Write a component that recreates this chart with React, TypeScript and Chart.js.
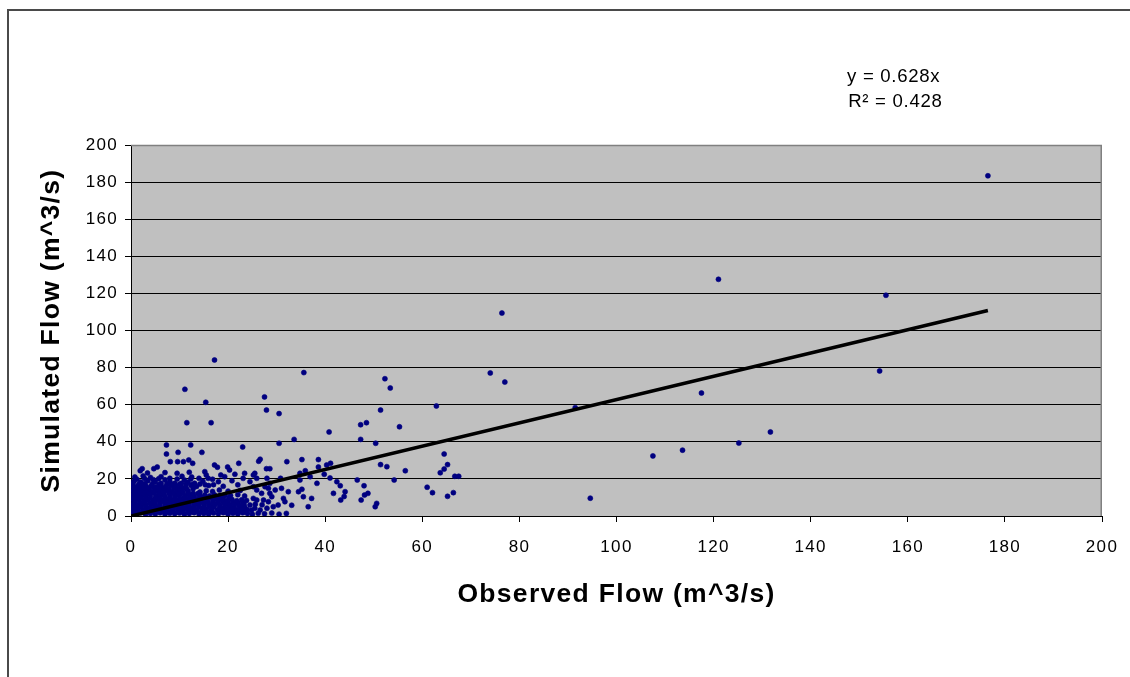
import React, { useEffect, useRef } from "react";
import { Chart, registerables } from "chart.js";

Chart.register(...registerables);

// ---------- data ----------
const xAxisMax = 200;
const yAxisMax = 200;
const tickStep = 20;

const trendSlope = 0.628;
const trendXEnd = 176.5;
const equationLabel = "y = 0.628x";
const r2Label = "R\u00B2 = 0.428";
const xTitle = "Observed Flow (m^3/s)";
const yTitle = "Simulated Flow (m^3/s)";

// dense mass near the origin
const denseCore: [number, number][] = [
  [0.2, 1.5], [1.0, 1.0], [2.0, 1.8], [3.0, 0.9], [4.0, 1.4], [5.0, 1.1], [6.0, 1.7], [7.0, 1.0], [8.0, 1.5],
  [9.0, 1.2], [10.0, 1.6], [11.0, 0.9], [12.0, 1.3], [13.0, 1.8], [14.0, 1.1], [15.0, 1.4], [16.0, 1.0], [17.0, 1.6],
  [0.5, 3.5], [1.4, 4.0], [2.5, 3.2], [3.4, 3.9], [4.5, 3.4], [5.4, 3.8], [6.5, 3.3], [7.4, 4.1], [8.5, 3.5],
  [9.6, 3.7], [10.5, 3.2], [11.5, 4.0], [12.4, 3.6], [13.5, 3.3], [14.6, 3.9], [15.5, 3.5], [16.5, 3.2],
  [0.3, 6.2], [1.2, 5.8], [2.2, 6.4], [3.1, 5.9], [4.1, 6.3], [5.0, 5.8], [6.0, 6.2], [7.1, 6.0], [8.0, 6.5],
  [9.0, 5.9], [10.1, 6.1], [11.0, 6.4], [12.0, 5.7], [13.1, 6.2], [14.0, 6.0], [15.1, 6.4], [16.2, 5.9],
  [0.5, 8.5], [1.6, 8.9], [2.6, 8.3], [3.5, 8.8], [4.6, 8.4], [5.6, 8.7], [6.5, 8.2], [7.6, 8.9], [8.6, 8.5],
  [9.5, 8.3], [10.6, 8.8], [11.6, 8.4], [12.5, 8.7], [13.6, 8.2], [14.4, 8.6], [15.6, 8.9],
  [0.2, 11.1], [1.1, 10.7], [2.1, 11.3], [3.0, 10.9], [4.0, 11.4], [5.1, 10.8], [6.1, 11.2], [7.0, 10.6],
  [8.1, 11.3], [9.1, 10.9], [10.0, 11.2], [11.1, 10.7], [12.2, 11.0], [13.0, 10.6],
  [0.4, 13.6], [1.3, 13.2], [2.4, 13.8], [3.3, 13.4], [4.3, 13.0], [5.3, 13.7], [6.3, 13.3], [7.2, 13.9],
  [8.3, 13.1], [9.4, 13.6], [10.3, 13.2], [11.8, 13.5], [14.2, 12.9],
];

// more of the same mass, between the rows above
const denseFill: [number, number][] = [
  [0.7, 2.4], [1.7, 2.2], [2.7, 2.5], [3.7, 2.1], [4.7, 2.4], [5.7, 2.3], [6.7, 2.6], [7.7, 2.2], [8.7, 2.4],
  [9.7, 2.1], [10.7, 2.5], [11.7, 2.3], [12.7, 2.2], [13.7, 2.6], [14.7, 2.3], [15.7, 2.1], [16.7, 2.4],
  [18.5, 2.5], [19.5, 2.2], [20.5, 2.6], [21.5, 2.3], [22.5, 2.5], [23.5, 2.2],
  [0.1, 4.8], [1.0, 5.0], [2.0, 4.7], [3.0, 5.1], [4.0, 4.6], [5.0, 4.9], [6.0, 5.0], [7.0, 4.7], [8.0, 4.9],
  [9.0, 5.1], [10.0, 4.6], [11.0, 4.9], [12.0, 5.0], [13.0, 4.7], [14.0, 5.0], [15.0, 4.8], [16.0, 5.1],
  [17.0, 4.7], [18.3, 4.9], [19.3, 4.6], [20.3, 5.0], [21.3, 4.8], [22.4, 4.9], [23.4, 4.7],
  [0.9, 7.3], [1.9, 7.1], [2.9, 7.5], [3.9, 7.2], [4.9, 7.4], [5.9, 7.0], [6.9, 7.4], [7.9, 7.2], [8.9, 7.5],
  [9.9, 7.1], [10.9, 7.3], [11.9, 7.5], [12.9, 7.1], [13.9, 7.4], [14.9, 7.2], [15.9, 7.4], [16.9, 7.1],
  [18.0, 7.3], [19.0, 7.5], [20.0, 7.1], [21.0, 7.4], [22.0, 7.2], [23.0, 7.4],
  [0.1, 9.8], [1.0, 9.6], [2.0, 10.0], [3.0, 9.7], [4.0, 9.9], [5.0, 9.5], [6.0, 10.0], [7.0, 9.6], [8.0, 9.9],
  [9.0, 9.7], [10.0, 9.6], [11.0, 10.0], [12.0, 9.7], [13.0, 9.9], [14.0, 9.6], [15.0, 9.9], [16.0, 9.7],
  [17.0, 9.9], [18.0, 9.6], [19.0, 10.0], [20.2, 9.7],
  [0.8, 12.4], [1.8, 12.1], [2.8, 12.5], [3.8, 12.2], [4.8, 12.4], [5.8, 12.0], [6.8, 12.5], [7.8, 12.2],
  [8.8, 12.4], [9.8, 12.1], [10.8, 12.4], [11.8, 12.0], [12.8, 12.3], [13.8, 12.1],
  [0.8, 14.8], [1.8, 14.6], [2.8, 15.0], [3.8, 14.7], [4.8, 14.9], [5.8, 14.5], [6.8, 14.9], [7.8, 14.6],
  [8.8, 14.9], [9.8, 14.6], [10.8, 14.8], [11.5, 14.4], [12.8, 14.7],
  [0.4, 17.3], [1.6, 17.1], [2.9, 17.5], [4.4, 17.2], [5.8, 17.0], [7.4, 17.4], [8.7, 17.0], [10.0, 17.1],
  [11.4, 17.3], [12.6, 17.0], [14.2, 17.2], [15.3, 16.8], [17.0, 16.9],
  [1.2, 19.8], [2.8, 20.2], [4.6, 19.6], [5.7, 20.1], [7.0, 19.5], [9.5, 19.9], [11.0, 19.4], [12.3, 19.9],
  [14.0, 20.3], [16.8, 19.8],
];

// right part of the mass, x 17-32
const denseRight: [number, number][] = [
  [18.0, 1.2], [19.0, 1.8], [20.0, 1.0], [21.0, 1.5], [22.0, 1.1], [23.0, 1.7], [24.0, 1.3], [25.0, 0.9],
  [26.2, 1.5], [27.5, 1.2], [29.0, 1.6], [30.5, 1.0], [32.0, 1.4],
  [17.8, 3.4], [18.8, 3.9], [19.8, 3.3], [20.8, 3.8], [21.8, 3.2], [22.9, 3.9], [23.9, 3.5], [24.8, 3.1],
  [17.3, 6.1], [18.3, 5.8], [19.3, 6.4], [20.3, 5.9], [21.3, 6.3], [22.3, 5.7], [23.3, 6.2], [25.6, 6.4], [27.0, 6.0],
  [16.8, 8.7], [17.8, 8.3], [18.8, 8.8], [19.8, 8.4], [20.8, 8.9], [21.8, 8.2], [22.8, 8.7], [23.8, 8.4],
  [14.2, 11.0], [15.2, 11.3], [16.2, 10.8], [17.2, 11.4], [18.3, 10.9], [19.4, 11.2], [20.5, 11.0], [22.0, 11.5], [23.4, 10.8],
  [15.5, 13.6], [16.8, 13.2], [18.2, 14.0], [20.0, 13.4], [22.5, 13.8],
];

// ragged top of the mass, y 15-28
const denseFringe: [number, number][] = [
  [0.2, 16.2], [1.2, 15.8], [2.2, 16.5], [3.2, 15.9], [4.2, 16.4], [5.2, 15.7], [6.2, 16.3], [7.2, 15.9],
  [8.2, 16.6], [9.2, 15.8], [10.3, 16.2], [11.3, 15.6], [12.4, 16.4], [13.5, 15.9], [16.0, 16.4], [19.0, 16.0], [22.0, 16.8],
  [0.6, 18.8], [2.0, 18.3], [3.5, 19.0], [5.0, 18.4], [6.2, 17.6], [8.0, 18.6], [9.0, 17.6], [10.4, 17.6],
  [11.7, 18.2], [13.1, 17.6], [14.8, 18.8], [18.0, 18.5], [20.8, 19.0],
  [0.8, 21.0], [2.5, 21.6], [4.0, 20.8], [6.2, 21.2], [8.0, 20.3], [10.5, 21.4], [12.5, 21.0], [15.5, 22.1],
  [15.9, 20.3], [18.5, 22.1], [19.3, 21.2], [21.4, 22.5], [23.1, 20.3],
  [1.9, 24.4], [2.3, 25.5], [4.7, 25.5], [5.4, 26.4], [3.4, 23.2], [7.0, 23.4], [9.5, 23.0], [12.0, 23.6],
  [15.2, 23.9], [17.2, 27.5], [17.8, 26.3], [20.3, 24.8], [23.4, 23.0], [25.5, 23.0], [19.9, 26.4], [22.2, 28.4],
];

// scattered points x 24-51 below y 24
const lowerSpread: [number, number][] = [
  [24.5, 18.5], [25.2, 22.1], [25.9, 20.3], [28.0, 20.3], [28.6, 17.6], [30.8, 20.3], [34.8, 23.0], [36.9, 21.2],
  [34.8, 19.4], [38.3, 17.6], [39.8, 22.5], [41.0, 20.5], [42.4, 18.5], [43.1, 16.3], [44.1, 13.1], [41.7, 12.2],
  [46.6, 19.4], [48.0, 16.3], [48.8, 12.2], [48.1, 11.3], [43.2, 8.6], [47.4, 8.6], [50.6, 6.8], [50.3, 5.0],
  [43.9, 10.5], [34.5, 13.1], [32.4, 13.1], [37.2, 9.5], [35.5, 10.4], [33.1, 5.8], [36.5, 5.0], [31.4, 9.5],
  [31.7, 7.7], [24.5, 5.9], [25.5, 4.2], [26.6, 3.2], [28.0, 4.2], [29.3, 5.0], [30.3, 5.9], [28.6, 12.2],
  [29.7, 14.0], [31.0, 14.9], [28.3, 14.9], [27.6, 15.8], [29.0, 10.4], [28.3, 7.7], [27.3, 8.6], [25.9, 8.6],
  [25.2, 9.5], [25.9, 14.0], [26.9, 12.2], [25.2, 15.8], [35.2, 14.4],
];

// upper and middle scatter
const midScatter: [number, number][] = [
  [17.2, 84.1], [35.6, 77.3], [11.1, 68.3], [15.4, 61.3], [27.5, 64.2], [27.9, 57.1], [30.5, 55.2], [11.5, 50.3],
  [16.5, 50.3], [30.5, 39.2], [33.6, 41.3], [40.8, 45.3], [23.0, 37.2], [7.3, 38.3], [7.3, 33.4], [9.7, 34.3],
  [12.3, 38.3], [14.6, 34.3], [8.1, 29.3], [9.6, 29.3], [10.8, 29.3], [11.9, 30.2], [12.7, 28.4], [26.6, 30.6],
  [26.3, 29.5], [27.9, 25.5], [28.6, 25.5], [32.1, 29.3], [35.2, 30.4], [38.6, 30.4], [40.3, 27.5], [41.1, 28.4],
  [35.9, 24.4], [38.6, 26.4],
  [52.3, 74.0], [53.4, 69.0], [51.4, 57.1], [62.9, 59.3], [47.3, 49.2], [48.5, 50.3], [47.3, 41.3], [55.3, 48.1],
  [50.4, 39.2], [64.5, 33.4], [51.4, 27.7], [52.7, 26.6], [65.2, 27.7], [64.5, 25.3], [63.7, 23.3], [56.5, 24.4],
  [66.7, 21.4], [67.5, 21.4], [54.2, 19.4], [61.0, 15.5], [62.1, 12.6], [65.2, 10.6], [66.4, 12.6],
  [76.4, 109.4], [74.0, 77.1], [77.0, 72.2],
];

// high-flow points
const farPoints: [number, number][] = [
  [176.5, 183.4], [121.0, 127.6], [155.5, 119.0], [154.2, 78.2], [117.5, 66.3], [131.7, 45.3],
  [125.2, 39.3], [113.6, 35.5], [107.5, 32.4], [94.6, 9.6], [91.5, 58.4],
];

// ---------- layout (page pixels) ----------
const PAGE_W = 1130;
const PAGE_H = 677;
const PLOT_LEFT = 131;
const PLOT_RIGHT = 1102;
const PLOT_TOP = 145;
const PLOT_BOTTOM = 516;
const FONT = "'Liberation Sans', Arial, sans-serif";

const toXY = (pts: [number, number][]) => pts.map(([x, y]) => ({ x, y }));

export default function App() {
  const ref = useRef<HTMLCanvasElement | null>(null);

  useEffect(() => {
    document.body.style.overflow = "hidden";
    const canvas = ref.current;
    if (!canvas) return;

    const decor = {
      id: "decor",
      beforeDraw(chart: any) {
        const { ctx, chartArea: a } = chart;
        // wide, GDI-like text spacing for all axis text
        ctx.letterSpacing = "1.3px";
        ctx.save();
        ctx.fillStyle = "#C0C0C0";
        ctx.fillRect(a.left, a.top, a.right - a.left, a.bottom - a.top);
        ctx.restore();
      },
      beforeDatasetsDraw(chart: any) {
        const { ctx, chartArea: a } = chart;
        ctx.save();
        ctx.strokeStyle = "#808080";
        ctx.lineWidth = 1.5;
        ctx.beginPath();
        ctx.moveTo(a.left, a.top + 0.5);
        ctx.lineTo(a.right - 0.75, a.top + 0.5);
        ctx.lineTo(a.right - 0.75, a.bottom);
        ctx.stroke();
        ctx.restore();
      },
      afterDraw(chart: any) {
        const { ctx } = chart;
        ctx.save();
        ctx.letterSpacing = "0.7px";
        ctx.fillStyle = "#000";
        ctx.font = `18.6px ${FONT}`;
        ctx.textAlign = "center";
        ctx.textBaseline = "middle";
        ctx.fillText(equationLabel, 893.7, 76.5);
        ctx.fillText(r2Label, 895.4, 102);
        ctx.restore();
      },
    };

    const allPoints = [
      ...denseCore,
      ...denseFill,
      ...denseRight,
      ...denseFringe,
      ...lowerSpread,
      ...midScatter,
      ...farPoints,
    ];

    const chart = new Chart(canvas, {
      type: "scatter",
      data: {
        datasets: [
          {
            label: "trend",
            data: [
              { x: 0, y: 0 },
              { x: trendXEnd, y: trendSlope * trendXEnd },
            ],
            showLine: true,
            borderColor: "#000",
            borderWidth: 3.6,
            pointRadius: 0,
            order: 0,
          },
          {
            label: "flow",
            data: toXY(allPoints),
            showLine: false,
            pointStyle: "circle",
            pointRadius: 2.5,
            pointBorderWidth: 0.6,
            pointBackgroundColor: "#000080",
            pointBorderColor: "#000080",
            order: 1,
          },
        ],
      },
      options: {
        animation: false,
        responsive: false,
        events: [],
        layout: {
          padding: {
            left: 0,
            top: PLOT_TOP,
            right: PAGE_W - PLOT_RIGHT,
            bottom: 0,
          },
        },
        plugins: {
          legend: { display: false },
          tooltip: { enabled: false },
        },
        scales: {
          x: {
            type: "linear",
            position: "bottom",
            min: 0,
            max: xAxisMax,
            ticks: {
              stepSize: tickStep,
              color: "#000",
              font: { family: FONT, size: 17 },
              padding: 15,
              maxRotation: 0,
              autoSkip: false,
            },
            grid: {
              drawOnChartArea: false,
              drawTicks: true,
              tickLength: 6,
              tickColor: "#000",
              color: "#000",
            },
            border: { display: true, color: "#000", width: 1 },
            title: {
              display: true,
              text: xTitle,
              color: "#000",
              font: { family: FONT, size: 26.5, weight: "bold" },
              padding: { top: 0, bottom: 66.6 },
            },
            afterFit(scale: any) {
              scale.height = PAGE_H - PLOT_BOTTOM;
              scale.paddingLeft = 0;
              scale.paddingRight = 0;
            },
          },
          y: {
            type: "linear",
            position: "left",
            min: 0,
            max: yAxisMax,
            ticks: {
              stepSize: tickStep,
              color: "#000",
              font: { family: FONT, size: 17 },
              padding: 7,
            },
            grid: {
              color: (c: any) => (c.tick && c.tick.value === yAxisMax ? "#808080" : "#000"),
              tickColor: "#000",
              drawTicks: true,
              tickLength: 6,
              lineWidth: 1,
            },
            border: { display: true, color: "#000", width: 1 },
            title: {
              display: true,
              text: yTitle,
              color: "#000",
              font: { family: FONT, size: 26.5, weight: "bold" },
              padding: { top: 35.6, bottom: 0 },
            },
            afterFit(scale: any) {
              scale.width = PLOT_LEFT;
              scale.paddingTop = 0;
              scale.paddingBottom = 0;
            },
          },
        },
      },
      plugins: [decor],
    } as any);

    return () => chart.destroy();
  }, []);

  return (
    <>
      <div
        style={{
          position: "fixed",
          left: 7,
          top: 9,
          width: PAGE_W - 7,
          height: PAGE_H - 9,
          borderLeft: "2px solid #4a4a4a",
          borderTop: "2px solid #4a4a4a",
          boxSizing: "border-box",
          pointerEvents: "none",
        }}
      />
      <canvas
        ref={ref}
        width={PAGE_W}
        height={PAGE_H}
        style={{
          position: "fixed",
          left: 0,
          top: 0,
          width: PAGE_W,
          height: PAGE_H,
          display: "block",
        }}
      />
    </>
  );
}
